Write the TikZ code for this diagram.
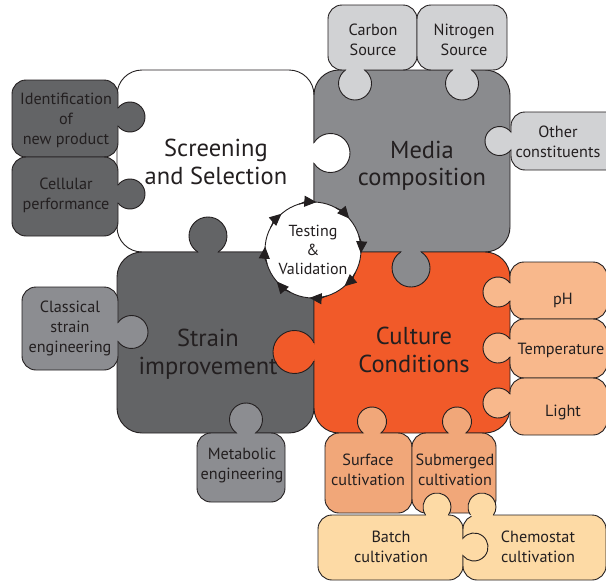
\documentclass[tikz,border=0pt]{standalone}
\usepackage{fontspec}
\setmainfont{PT Sans}
\usetikzlibrary{arrows.meta}
\definecolor{ink}{RGB}{35,31,32}
\definecolor{mediagray}{RGB}{138,139,142}
\definecolor{straingray}{RGB}{99,100,102}
\definecolor{cultureorange}{RGB}{241,90,41}
\definecolor{satdark}{RGB}{99,100,102}
\definecolor{satmid}{RGB}{140,141,145}
\definecolor{satlight}{RGB}{209,210,212}
\definecolor{ltorange}{RGB}{248,184,140}
\definecolor{tanorange}{RGB}{241,167,121}
\definecolor{beige}{RGB}{253,218,165}
\tikzset{
  piece/.style={draw=ink, line width=0.9pt, rounded corners=25pt},
  satbox/.style={draw=ink, line width=0.9pt, rounded corners=14pt},
  knobline/.style={draw=ink, line width=0.9pt},
  bigtxt/.style={text=ink, font=\fontsize{24.5}{27.5}\selectfont, align=center, inner sep=0pt},
  smalltxt/.style={text=ink, font=\fontsize{16.2}{20}\selectfont, align=center, inner sep=0pt},
  tvtxt/.style={text=ink, font=\fontsize{16}{19}\selectfont, align=center, inner sep=0pt},
  tvarrow/.style={-{Triangle[length=12pt,width=11pt]}, draw=ink, fill=ink, line width=0.9pt}
}
% knob: fill, cx, cy, r, outward angle, distance of centre from edge
\newcommand\pzknob[6]{%
  \pgfmathsetmacro\pzka{acos(-(#6)/(#4))}%
  \fill[#1] (#2,#3) circle[radius=#4];
  \draw[knobline] (#2,#3) ++({#5-\pzka}:#4) arc[start angle={#5-\pzka}, delta angle={2*\pzka}, radius=#4];
}
\begin{document}
\begin{tikzpicture}[x=1pt,y=-1pt]
\path[use as bounding box] (0,0) rectangle (606,581);
\clip (0,0) rectangle (606,581);
\fill[white] (0,0) rectangle (606,581);
% main pieces
\draw[piece, fill=white] (117,70) rectangle (314,252);
\draw[piece, fill=mediagray] (314,70) rectangle (510,252);
\draw[piece, fill=straingray] (117,252) rectangle (314,433);
\draw[piece, fill=cultureorange] (314,252) rectangle (510,433);
% main knobs
\pzknob{white}{330.5}{153}{19.5}{0}{16.5}
\pzknob{straingray}{208}{236}{19}{270}{16}
\pzknob{mediagray}{411}{268}{19}{90}{16}
\pzknob{cultureorange}{294.5}{352}{21.5}{180}{19.5}
% satellite boxes
\draw[satbox, fill=satdark] (12,80) rectangle (118,157);
\draw[satbox, fill=satdark] (12,157) rectangle (118,236);
\draw[satbox, fill=satmid] (22,287) rectangle (118,370);
\draw[satbox, fill=satmid] (197,433) rectangle (285,502);
\draw[satbox, fill=satlight] (328,5) rectangle (417,70);
\draw[satbox, fill=satlight] (417,5) rectangle (507,70);
\draw[satbox, fill=satlight] (511,112) rectangle (620,170);
\draw[satbox, fill=ltorange] (510,262) rectangle (607,319);
\draw[satbox, fill=ltorange] (510,319) rectangle (607,378);
\draw[satbox, fill=ltorange] (510,378) rectangle (607,435);
\draw[satbox, fill=tanorange] (325,433) rectangle (412,513);
\draw[satbox, fill=tanorange] (412,433) rectangle (496,513);
\draw[satbox, fill=beige] (318,515) rectangle (463,580);
\draw[satbox, fill=beige] (463,515) rectangle (606,580);
% satellite knobs
\pzknob{satdark}{130}{117}{15}{0}{12}
\pzknob{satdark}{130}{194}{15}{0}{12}
\pzknob{satmid}{131.5}{332}{16.5}{0}{13.5}
\pzknob{satmid}{246}{419.5}{16.5}{270}{13.5}
\pzknob{satlight}{355}{83.5}{16.5}{90}{13.5}
\pzknob{satlight}{462}{83.5}{16.5}{90}{13.5}
\pzknob{satlight}{499.5}{141}{14.5}{180}{11.5}
\pzknob{ltorange}{498}{292}{15}{180}{12}
\pzknob{ltorange}{498}{348}{15}{180}{12}
\pzknob{ltorange}{498}{403}{15}{180}{12}
\pzknob{tanorange}{372}{421.5}{14.5}{270}{11.5}
\pzknob{tanorange}{457}{421.5}{14.5}{270}{11.5}
\pzknob{beige}{437}{507}{14}{270}{8}
\pzknob{beige}{482}{507}{14}{270}{8}
\pzknob{beige}{474}{547}{14}{0}{11}
% main texts
\node[bigtxt] (ss) at (216,162) {Screening\\and Selection};
\node[bigtxt] (mc) at (422,166) {Media\\composition};
\node[bigtxt] (si) at (208,354) {Strain\\improvement};
\node[bigtxt] (cc) at (414,350) {Culture\\Conditions};
% satellite texts
\node[smalltxt] (idn) at (66,120) {Identification\\of\\new product};
\node[smalltxt] (cel) at (66,195) {Cellular\\performance};
\node[smalltxt] (cla) at (70,328) {Classical\\strain\\engineering};
\node[smalltxt] (met) at (242,465) {Metabolic\\engineering};
\node[smalltxt] (car) at (373,40) {Carbon\\Source};
\node[smalltxt] (nit) at (464,40) {Nitrogen\\Source};
\node[smalltxt] (oth) at (558,142) {Other\\constituents};
\node[smalltxt] (ph) at (563,300) {pH};
\node[smalltxt] (tem) at (561,350) {Temperature};
\node[smalltxt] (lig) at (563,412) {Light};
\node[smalltxt] (sur) at (368,470) {Surface\\cultivation};
\node[smalltxt] (sub) at (455,470) {Submerged\\cultivation};
\node[smalltxt] (bat) at (391,547) {Batch\\cultivation};
\node[smalltxt] (che) at (538,547) {Chemostat\\cultivation};
% testing & validation
\node[circle, draw=ink, fill=white, line width=0.9pt, minimum size=96pt, inner sep=0pt] (tv) at (313,250) {};
\node[tvtxt] (tvt) at (tv.center) {Testing\\\&\\Validation};
\foreach \a in {-3,42,87,132,177,222,267,312}{
  \draw[tvarrow] (tv.center) ++({\a-14}:48) arc[start angle={\a-14}, end angle={\a+7}, radius=48];
}
\end{tikzpicture}
\end{document}
